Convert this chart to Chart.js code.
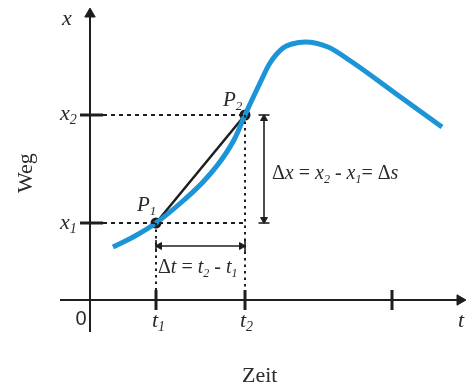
<!DOCTYPE html>
<html>
<head>
<meta charset="utf-8">
<script src="https://cdn.jsdelivr.net/npm/chart.js@4.4.0/dist/chart.umd.min.js"></script>
<style>
  html, body { margin: 0; padding: 0; background: #fff; }
  canvas { display: block; }
</style>
</head>
<body>
<canvas id="wegZeit" width="470" height="387"></canvas>
<script>
// Weg-Zeit-Kurve (t = Zeit, x = Weg, freie Einheiten)
const zeitWerte = [2.3, 4.5, 6.6, 9.4, 11.3, 13.2, 14.5, 15.5, 17.0, 18.0, 19.3, 20.2, 21.5, 23.8, 26.2, 30.7, 35.2];
const wegWerte  = [5.3, 6.4, 7.7, 10.0, 11.8, 14.1, 16.2, 18.5, 21.7, 23.7, 25.2, 25.6, 25.8, 25.3, 23.8, 20.55, 17.3];

// markierte Zeitpunkte / Wege
const zeitMarken = [6.6, 15.5, 30.2];   // t1, t2, dritter Strich
const wegMarken  = [7.7, 18.5];         // x1, x2
const t1 = zeitMarken[0], t2 = zeitMarken[1];
const x1 = wegMarken[0], x2 = wegMarken[1];

// Achsenbereich
const tMin = -9, tMax = 38;
const xMin = -8.7, xMax = 30;

const SCHWARZ = '#1e1e1e';
const BLAU = '#1b95d8';

function linie(punkte, farbe, breite, strich) {
    return {
        type: 'line',
        data: punkte.map(p => ({ x: p[0], y: p[1] })),
        borderColor: farbe,
        borderWidth: breite,
        borderDash: strich || [],
        pointRadius: 0,
        fill: false,
        tension: 0
    };
}

function pfeilspitzen(punkte, drehungen, radius) {
    return {
        type: 'scatter',
        data: punkte.map(p => ({ x: p[0], y: p[1] })),
        pointStyle: 'triangle',
        rotation: drehungen,
        pointRadius: radius,
        backgroundColor: SCHWARZ,
        borderColor: SCHWARZ,
        borderWidth: 1,
        showLine: false
    };
}

const datensaetze = [];

// Hilfslinien (gestrichelt / gepunktet)
datensaetze.push(linie([[1.3, x2], [t2, x2]], SCHWARZ, 2, [4, 4]));
datensaetze.push(linie([[1.3, x1], [t2, x1]], SCHWARZ, 2, [4, 4]));
datensaetze.push(linie([[t1, x1], [t1, 0]], SCHWARZ, 2, [2.5, 4]));
datensaetze.push(linie([[t2, x2], [t2, 0]], SCHWARZ, 2, [2.5, 4]));

// Achsen
datensaetze.push(linie([[-3, 0], [37, 0]], SCHWARZ, 2));
datensaetze.push(linie([[0, -3.2], [0, 28.6]], SCHWARZ, 2));
datensaetze.push(pfeilspitzen([[37.0, 0], [0, 28.6]], [90, 0], 6));

// Striche an den Achsen
wegMarken.forEach(w => datensaetze.push(linie([[-1, w], [1.3, w]], SCHWARZ, 3)));
zeitMarken.forEach(z => datensaetze.push(linie([[z, -1], [z, 1]], SCHWARZ, 3)));

// Delta t Pfeil
const dtHoehe = 5.4;
datensaetze.push(linie([[t1, dtHoehe], [t2, dtHoehe]], SCHWARZ, 1.6));
datensaetze.push(linie([[t1, dtHoehe - 0.6], [t1, dtHoehe + 0.6]], SCHWARZ, 1.6));
datensaetze.push(linie([[t2, dtHoehe - 0.6], [t2, dtHoehe + 0.6]], SCHWARZ, 1.6));
datensaetze.push(pfeilspitzen([[t1 + 0.35, dtHoehe], [t2 - 0.35, dtHoehe]], [270, 90], 4));

// Delta x Pfeil
const dxStelle = 17.4;
datensaetze.push(linie([[dxStelle, x1], [dxStelle, x2]], SCHWARZ, 1.6));
datensaetze.push(linie([[dxStelle - 0.55, x2], [dxStelle + 0.55, x2]], SCHWARZ, 1.6));
datensaetze.push(linie([[dxStelle - 0.55, x1], [dxStelle + 0.55, x1]], SCHWARZ, 1.6));
datensaetze.push(pfeilspitzen([[dxStelle, x2 - 0.35], [dxStelle, x1 + 0.35]], [0, 180], 4));

// Kurve
datensaetze.push({
    type: 'line',
    data: zeitWerte.map((t, i) => ({ x: t, y: wegWerte[i] })),
    borderColor: BLAU,
    borderWidth: 5,
    pointRadius: 0,
    cubicInterpolationMode: 'monotone',
    fill: false
});

// Sekante P1 - P2
datensaetze.push(linie([[t1, x1], [t2, x2]], SCHWARZ, 2.5));
datensaetze.push({
    type: 'scatter',
    data: [{ x: t1, y: x1 }, { x: t2, y: x2 }],
    pointRadius: 5.5,
    backgroundColor: SCHWARZ,
    borderColor: SCHWARZ,
    borderWidth: 0,
    showLine: false
});

// Text mit Indizes schreiben
function schreibe(ctx, teile, px, py, groesse) {
    let x = px;
    teile.forEach(([text, art]) => {
        const g = art === 's' ? Math.round(groesse * 0.62) : groesse;
        const schnitt = art === 'n' ? '' : 'italic ';
        ctx.font = schnitt + g + 'px "Liberation Serif"';
        ctx.fillText(text, x, art === 's' ? py + groesse * 0.2 : py);
        x += ctx.measureText(text).width;
    });
}

const beschriftung = {
    id: 'beschriftung',
    afterDatasetsDraw(chart) {
        const ctx = chart.ctx;
        const sx = chart.scales.x, sy = chart.scales.y;
        const P = (t, w) => [sx.getPixelForValue(t), sy.getPixelForValue(w)];
        ctx.save();
        ctx.fillStyle = '#2a2a2a';
        ctx.textBaseline = 'alphabetic';
        ctx.textAlign = 'left';

        schreibe(ctx, [['x', 'i']], ...P(-2.8, 27.5), 22);
        schreibe(ctx, [['x', 'i'], ['2', 's']], ...P(-3.0, 18.0), 22);
        schreibe(ctx, [['x', 'i'], ['1', 's']], ...P(-3.0, 7.1), 22);
        schreibe(ctx, [['P', 'i'], ['1', 's']], ...P(4.7, 8.9), 21);
        schreibe(ctx, [['P', 'i'], ['2', 's']], ...P(13.3, 19.4), 21);
        schreibe(ctx, [['t', 'i'], ['1', 's']], ...P(6.2, -2.7), 22);
        schreibe(ctx, [['t', 'i'], ['2', 's']], ...P(15.0, -2.7), 22);
        schreibe(ctx, [['t', 'i']], ...P(36.8, -2.7), 22);
        schreibe(ctx, [['Zeit', 'n']], ...P(15.2, -8.2), 22);

        schreibe(ctx, [['Δ', 'n'], ['x', 'i'], [' = ', 'n'], ['x', 'i'], ['2', 's'], [' - ', 'n'],
                       ['x', 'i'], ['1', 's'], ['= ', 'n'], ['Δ', 'n'], ['s', 'i']], ...P(18.2, 12.1), 20);
        schreibe(ctx, [['Δ', 'n'], ['t', 'i'], [' = ', 'n'], ['t', 'i'], ['2', 's'], [' - ', 'n'],
                       ['t', 'i'], ['1', 's']], ...P(6.8, 2.7), 20);

        ctx.font = '20px "Liberation Sans"';
        ctx.textAlign = 'center';
        ctx.fillText('0', ...P(-0.9, -2.5));

        // Weg (gedreht)
        const [wx, wy] = P(-5.8, 10.7);
        ctx.translate(wx, wy);
        ctx.rotate(-Math.PI / 2);
        ctx.textAlign = 'left';
        ctx.font = '22px "Liberation Serif"';
        ctx.fillText('Weg', 0, 0);
        ctx.restore();
    }
};

new Chart(document.getElementById('wegZeit'), {
    type: 'scatter',
    data: { datasets: datensaetze },
    options: {
        responsive: false,
        animation: false,
        layout: { padding: 0, autoPadding: false },
        plugins: {
            legend: { display: false },
            tooltip: { enabled: false }
        },
        scales: {
            x: { type: 'linear', min: tMin, max: tMax, display: false },
            y: { type: 'linear', min: xMin, max: xMax, display: false }
        }
    },
    plugins: [beschriftung]
});
</script>
</body>
</html>
